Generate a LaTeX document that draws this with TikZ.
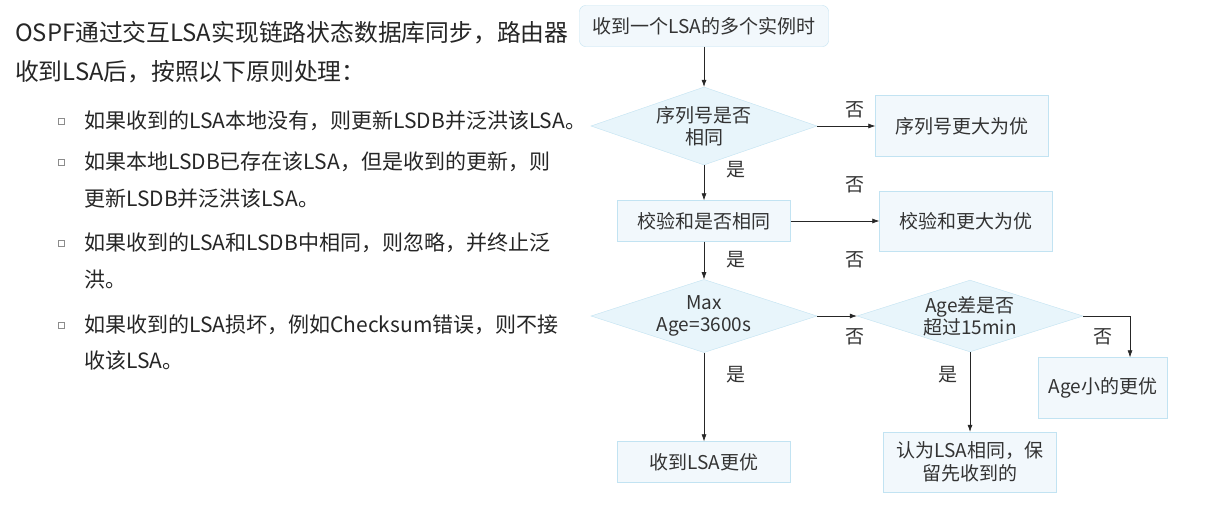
\documentclass[tikz,border=0pt]{standalone}
\usepackage{fontspec}
\setmainfont{Noto Sans CJK SC}
\usetikzlibrary{shapes.geometric,arrows.meta,positioning}
\definecolor{boxfill}{HTML}{F2F8FC}
\definecolor{boxline}{HTML}{C2E3F2}
\definecolor{decfill}{HTML}{E8F5FB}
\definecolor{txt}{HTML}{333333}
\begin{document}
\begin{tikzpicture}[x=1pt,y=-1pt,
   box/.style={draw=boxline,fill=boxfill,text=txt,minimum width=173pt,minimum height=#1,
     inner sep=0pt,align=center,font=\fontsize{19}{23}\selectfont},
   box/.default=41pt,
   dec/.style={diamond,draw=boxline,fill=decfill,text=txt,minimum width=226pt,minimum height=#1,
     aspect=2.9,inner sep=0pt,align=center,font=\fontsize{19}{22}\selectfont},
   dec/.default=67pt,
   arr/.style={-{Latex[length=7pt,width=5pt]},draw=black!85,semithick},
   lbl/.style={text=txt,font=\fontsize{19}{22}\selectfont},
   item/.style={anchor=west,inner sep=0pt,text=black!85,font=\fontsize{21}{24}\selectfont},
   bul/.style={draw=black!45,minimum size=6pt,inner sep=0pt}]
 \useasboundingbox[fill=white] (0,0) rectangle (1209,504);
 % text on the left
 \node[item,font=\fontsize{23.8}{26}\selectfont] (head1) at (15,33) {OSPF通过交互LSA实现链路状态数据库同步，路由器};
 \node[item,font=\fontsize{23.8}{26}\selectfont] (head2) at (15,72) {收到LSA后，按照以下原则处理：};
 \foreach \Y/\T [count=\i] in {121/{如果收到的LSA本地没有，则更新LSDB并泛洪该LSA。},
     162/{如果本地LSDB已存在该LSA，但是收到的更新，则},
     243/{如果收到的LSA和LSDB中相同，则忽略，并终止泛},
     325/{如果收到的LSA损坏，例如Checksum错误，则不接}}
 {\node[bul] (b\i) at (61,\Y) {};
  \node[item] (t\i) at (84,\Y) {\T};}
 \foreach \Y/\T [count=\i] in {199/{更新LSDB并泛洪该LSA。},280/{洪。},361/{收该LSA。}}
  \node[item] (c\i) at (84,\Y) {\T};
 % flow chart
 \node[box,rounded corners=6pt,minimum width=249pt] (start) at (704,26) {收到一个LSA的多个实例时};
 \node[dec=78pt] (seq) at (704,126) {序列号是否\\相同};
 \node[box=61pt] (seqbig) at (962,126) {序列号更大为优};
 \node[box] (chk) at (704,221) {校验和是否相同};
 \node[box=60pt] (chkbig) at (966,221) {校验和更大为优};
 \node[dec] (maxage) at (704,316) {Max\\Age=3600s};
 \node[dec=66pt] (agediff) at (970,316) {Age差是否\\超过15min};
 \node[box=61pt,minimum width=129pt] (agesmall) at (1103,388) {Age小的更优};
 \node[box=60pt] (same) at (970,462) {认为LSA相同，保\\留先收到的};
 \node[box] (rcvbetter) at (704,462) {收到LSA更优};
 \draw[arr] (start) -- (seq);
 \draw[arr] (seq) -- (chk);
 \draw[arr] (seq) -- (seqbig);
 \draw[arr] (chk) -- (chkbig);
 \draw[arr] (chk) -- (maxage);
 \draw[arr] (maxage) -- (agediff);
 \draw[arr] (maxage) -- (rcvbetter);
 \draw[arr] (agediff) -- (same);
 \draw[arr] (agediff.east) -| ([xshift=27pt]agesmall.north);
 \foreach \X/\Y/\T in {855/110/否,736/170/是,855/185/否,736/260/是,855/260/否,
     855/337/否,736/375/是,1103/337/否,948/375/是}
  \node[lbl] at (\X,\Y) {\T};
\end{tikzpicture}
\end{document}
